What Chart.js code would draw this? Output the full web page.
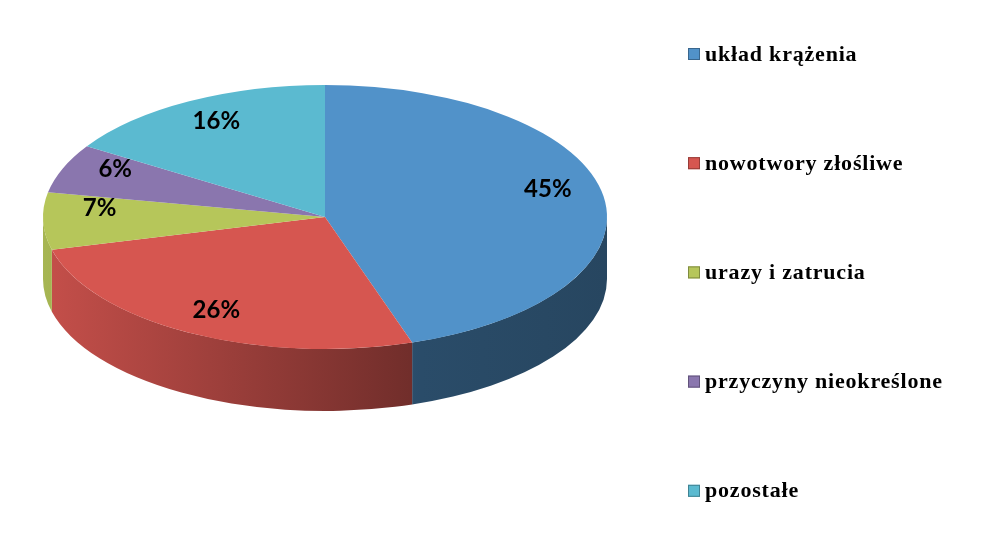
<!DOCTYPE html>
<html>
<head>
<meta charset="utf-8">
<script src="https://cdn.jsdelivr.net/npm/chart.js@4.4.0/dist/chart.umd.min.js"></script>
<style>
  html, body { margin: 0; padding: 0; background: #fff; }
  #wykres { display: block; }
</style>
</head>
<body>
<canvas id="wykres" width="988" height="534"></canvas>
<script>
// dane
var kategorie = ["układ krążenia", "nowotwory złośliwe", "urazy i zatrucia", "przyczyny nieokreślone", "pozostałe"];
var wartosci = [45, 26, 7, 6, 16];
var kolory = ["#5192C9", "#D65650", "#B6C65A", "#8A76AE", "#5BBAD0"];

// geometria "3D"
var CX = 325, CY = 217, RX = 282, RY = 132, GLEB = 62;

function cieniuj(hex, f) {
    var r = parseInt(hex.substr(1, 2), 16), g = parseInt(hex.substr(3, 2), 16), b = parseInt(hex.substr(5, 2), 16);
    return "rgb(" + Math.round(r * f) + "," + Math.round(g * f) + "," + Math.round(b * f) + ")";
}

var pie3d = {
    id: 'pie3d',
    beforeDatasetsDraw: function (chart) {
        var ctx = chart.ctx;
        var arcs = chart.getDatasetMeta(0).data;
        var a0 = arcs[0];
        var TWO = Math.PI * 2;

        // boki (tylko przednia polowa)
        arcs.forEach(function (arc, i) {
            var s = ((arc.startAngle % TWO) + TWO) % TWO;
            var e = s + (arc.endAngle - arc.startAngle);
            [[0, Math.PI], [TWO, TWO + Math.PI]].forEach(function (zak) {
                var a = Math.max(s, zak[0]), b = Math.min(e, zak[1]);
                if (b <= a) return;
                var grad = ctx.createLinearGradient(CX - RX, 0, CX + RX, 0);
                grad.addColorStop(0, cieniuj(kolory[i], 0.92));
                grad.addColorStop(0.67, cieniuj(kolory[i], 0.52));
                grad.addColorStop(1, cieniuj(kolory[i], 0.48));
                ctx.beginPath();
                ctx.ellipse(CX, CY, RX, RY, 0, a, b, false);
                ctx.ellipse(CX, CY + GLEB, RX, RY, 0, b, a, true);
                ctx.closePath();
                ctx.fillStyle = grad;
                ctx.fill();
            });
        });

        ctx.save();
        ctx.translate(CX, CY);
        ctx.scale(RX / a0.outerRadius, RY / a0.outerRadius);
        ctx.translate(-a0.x, -a0.y);
    },
    afterDatasetsDraw: function (chart) {
        var ctx = chart.ctx;
        ctx.restore();
        var arcs = chart.getDatasetMeta(0).data;
        var suma = wartosci.reduce(function (p, c) { return p + c; }, 0);

        // etykiety procentowe (perspektywa: tyl plytszy, przod glebszy)
        ctx.save();
        ctx.font = "bold 24px Lato, 'Open Sans', sans-serif";
        ctx.fillStyle = "#000";
        ctx.textAlign = "center";
        ctx.textBaseline = "middle";
        arcs.forEach(function (arc, i) {
            var kat = (arc.startAngle + arc.endAngle) / 2;
            var s = Math.sin(kat);
            var x = CX + RX * 0.8 * Math.cos(kat);
            var y = 204 + 0.8 * s * (s < 0 ? 118 : 151);
            ctx.fillText(Math.round(wartosci[i] / suma * 100) + "%", x, y);
        });
        ctx.restore();

        // legenda
        ctx.save();
        ctx.font = "bold 22px 'Liberation Serif', 'Times New Roman', serif";
        ctx.letterSpacing = "0.8px";
        ctx.textBaseline = "middle";
        chart.data.labels.forEach(function (lab, i) {
            var y = 54 + i * 109.2;
            ctx.fillStyle = kolory[i];
            ctx.fillRect(688, y - 6, 12, 12);
            ctx.strokeStyle = cieniuj(kolory[i], 0.7);
            ctx.lineWidth = 1;
            ctx.strokeRect(688.5, y - 5.5, 11, 11);
            ctx.fillStyle = "#000";
            ctx.fillText(lab, 705, y + 1);
        });
        ctx.restore();
    }
};

new Chart(document.getElementById("wykres").getContext("2d"), {
    type: 'pie',
    data: {
        labels: kategorie,
        datasets: [{
            data: wartosci,
            backgroundColor: kolory,
            borderWidth: 0,
            clip: false
        }]
    },
    options: {
        responsive: false,
        animation: false,
        events: [],
        plugins: {
            legend: { display: false },
            tooltip: { enabled: false }
        }
    },
    plugins: [pie3d]
});
</script>
</body>
</html>
